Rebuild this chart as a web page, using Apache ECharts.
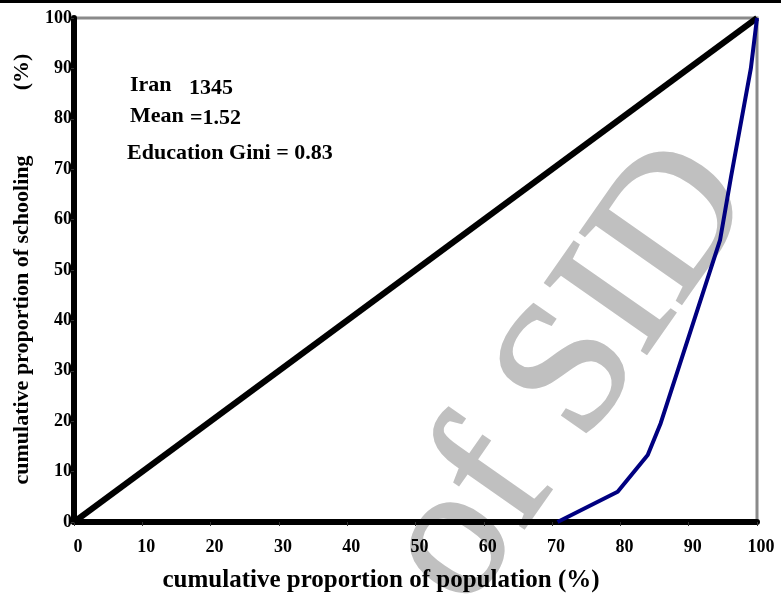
<!DOCTYPE html>
<html>
<head>
<meta charset="utf-8">
<script src="https://cdn.jsdelivr.net/npm/echarts@6/dist/echarts.min.js"></script>
<style>
  html, body { margin: 0; padding: 0; background: #fff; }
  #chart { width: 781px; height: 603px; }
</style>
</head>
<body>
<div id="chart"></div>
<script>
// Line of perfect equality and the Lorenz curve of schooling (Iran 1345)
const equalityLine = [[0, 0], [100, 100]];
const lorenzX = [70.8, 79.6, 84.0, 85.9, 94.6, 96.2, 99.1, 100];
const lorenzY = [0, 6.0, 13.3, 19.6, 56.0, 68.5, 90.0, 100];

const xTitle = 'cumulative proportion of population (%)';
const yTitle = 'cumulative proportion of schooling';
const noteLines = ['Iran', '1345', 'Mean', '=1.52', 'Education Gini = 0.83'];

const serif = '"Liberation Serif", "Times New Roman", serif';

const chart = echarts.init(document.getElementById('chart'));

const option = {
  backgroundColor: '#fff',
  animation: false,
  grid: {
    left: 74,
    right: 24,
    top: 18,
    bottom: 81,
    show: true,
    borderColor: '#8a8a8a',
    borderWidth: 3,
    backgroundColor: 'transparent'
  },
  xAxis: {
    type: 'value',
    min: 0,
    max: 100,
    interval: 10,
    splitLine: { show: false },
    axisLine: { onZero: false, lineStyle: { color: '#000', width: 6 } },
    axisTick: { show: true, length: 4, lineStyle: { color: '#333', width: 1 } },
    axisLabel: {
      margin: 16,
      padding: [0, 0, 0, 8],
      color: '#000',
      fontFamily: serif,
      fontWeight: 'bold',
      fontSize: 18
    }
  },
  yAxis: {
    type: 'value',
    min: 0,
    max: 100,
    interval: 10,
    splitLine: { show: false },
    axisLine: { onZero: false, lineStyle: { color: '#000', width: 6 } },
    axisTick: { show: true, length: 3, lineStyle: { color: '#333', width: 1 } },
    axisLabel: {
      margin: 2,
      color: '#000',
      fontFamily: serif,
      fontWeight: 'bold',
      fontSize: 18
    }
  },
  graphic: [
    // watermark, behind everything
    {
      type: 'text',
      z: -10,
      x: 716,
      y: 168,
      rotation: 55 * Math.PI / 180,
      silent: true,
      style: {
        text: 'Archive of SID',
        fill: '#c0c0c0',
        font: 'normal 188px ' + serif,
        textAlign: 'right',
        textVerticalAlign: 'middle',
        stroke: '#c0c0c0',
        lineWidth: 3
      }
    },
    // thin black rule across the top of the page
    {
      type: 'rect',
      shape: { x: 0, y: 0, width: 781, height: 3 },
      style: { fill: '#000' },
      silent: true
    },
    {
      type: 'text',
      x: 381,
      y: 581,
      style: {
        text: xTitle,
        fill: '#000',
        font: 'bold 25px ' + serif,
        textAlign: 'center',
        textVerticalAlign: 'middle'
      }
    },
    {
      type: 'text',
      x: 22,
      y: 320,
      rotation: Math.PI / 2,
      style: {
        text: yTitle,
        fill: '#000',
        font: 'bold 22px ' + serif,
        textAlign: 'center',
        textVerticalAlign: 'middle'
      }
    },
    {
      type: 'text',
      x: 22,
      y: 72,
      rotation: Math.PI / 2,
      style: {
        text: '(%)',
        fill: '#000',
        font: 'bold 22px ' + serif,
        textAlign: 'center',
        textVerticalAlign: 'middle'
      }
    },
    { type: 'text', x: 130, y: 85, style: { text: noteLines[0], fill: '#000', font: 'bold 22px ' + serif, textVerticalAlign: 'middle' } },
    { type: 'text', x: 189, y: 88, style: { text: noteLines[1], fill: '#000', font: 'bold 22px ' + serif, textVerticalAlign: 'middle' } },
    { type: 'text', x: 130, y: 116, style: { text: noteLines[2], fill: '#000', font: 'bold 22px ' + serif, textVerticalAlign: 'middle' } },
    { type: 'text', x: 190, y: 118, style: { text: noteLines[3], fill: '#000', font: 'bold 22px ' + serif, textVerticalAlign: 'middle' } },
    { type: 'text', x: 127, y: 153, style: { text: noteLines[4], fill: '#000', font: 'bold 22px ' + serif, textVerticalAlign: 'middle' } }
  ],
  series: [
    {
      name: 'Equality',
      type: 'line',
      data: equalityLine,
      symbol: 'none',
      lineStyle: { color: '#000', width: 6 },
      z: 3
    },
    {
      name: 'Lorenz',
      type: 'line',
      data: lorenzX.map((x, i) => [x, lorenzY[i]]),
      symbol: 'none',
      lineStyle: { color: '#000080', width: 4 },
      z: 4
    }
  ]
};

chart.setOption(option);
</script>
</body>
</html>
